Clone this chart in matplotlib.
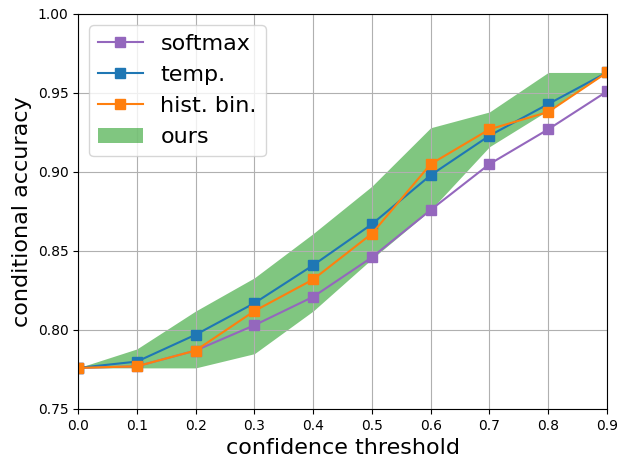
import matplotlib
matplotlib.use("Agg")
import matplotlib.pyplot as plt

thresholds = [0.0, 0.1, 0.2, 0.3, 0.4, 0.5, 0.6, 0.7, 0.8, 0.9]
softmax = [0.776, 0.777, 0.787, 0.803, 0.821, 0.846, 0.876, 0.905, 0.927, 0.951]
temp = [0.776, 0.780, 0.797, 0.817, 0.841, 0.867, 0.898, 0.923, 0.943, 0.963]
hist_bin = [0.776, 0.777, 0.787, 0.812, 0.832, 0.861, 0.905, 0.927, 0.938, 0.963]
ours_low = [0.776, 0.776, 0.776, 0.785, 0.812, 0.845, 0.876, 0.916, 0.939, 0.963]
ours_high = [0.776, 0.788, 0.812, 0.833, 0.861, 0.891, 0.928, 0.938, 0.963, 0.963]

fig = plt.figure(figsize=(6.2, 4.59), dpi=100)
ax = fig.add_axes([0.126, 0.109, 0.853, 0.8605])

ax.plot(thresholds, softmax, marker="s", ms=7, color="tab:purple", label="softmax")
ax.plot(thresholds, temp, marker="s", ms=7, color="tab:blue", label="temp.")
ax.plot(thresholds, hist_bin, marker="s", ms=7, color="tab:orange", label="hist. bin.")
ax.fill_between(thresholds, ours_low, ours_high, color="tab:green", alpha=0.6,
                linewidth=0, label="ours")

ax.set_xlim(0, 0.9)
ax.set_ylim(0.75, 1.0)
ax.set_xlabel("confidence threshold", fontsize=16)
ax.set_ylabel("conditional accuracy", fontsize=16)
ax.grid(True)
ax.legend(loc="upper left", fontsize=16)

fig.savefig("out.png")
